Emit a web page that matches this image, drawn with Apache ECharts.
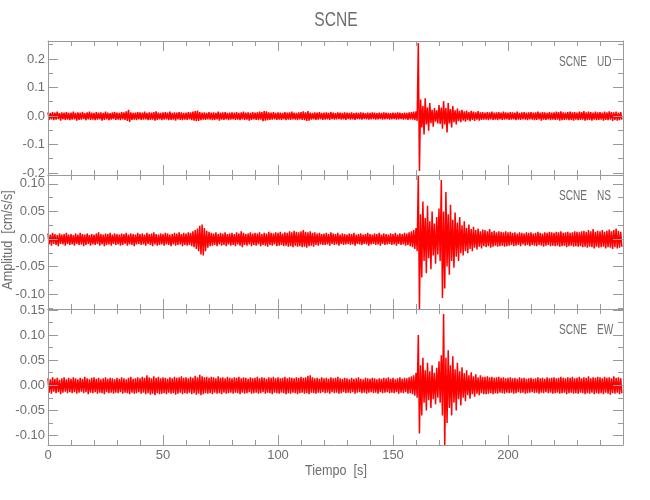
<!DOCTYPE html>
<html>
<head>
<meta charset="utf-8">
<script src="https://cdn.jsdelivr.net/npm/echarts@6/dist/echarts.min.js"></script>
<style>html,body{margin:0;padding:0;background:#fff;}#chart{width:650px;height:500px;}</style>
</head>
<body>
<div id="chart"></div>
<script>
// ---- data (amplitude envelopes per 1 s bin, cm/s/s) ----
const binStart = 0;     // s
const binWidth = 1;     // s
const timeMin = 0, timeMax = 250;

const panelNames = ['UD', 'NS', 'EW'];
const station = 'SCNE';

const udRange = [-0.207, 0.263];
const nsRange = [-0.127, 0.116];
const ewRange = [-0.119, 0.152];

const udTicks = [-0.2, -0.1, 0.0, 0.1, 0.2];
const nsTicks = [-0.10, -0.05, 0.00, 0.05, 0.10];
const ewTicks = [-0.10, -0.05, 0.00, 0.05, 0.10, 0.15];
const udMinor = [-0.15, -0.05, 0.05, 0.15, 0.25];
const nsMinor = [-0.125, -0.075, -0.025, 0.025, 0.075];
const ewMinor = [-0.075, -0.025, 0.025, 0.075, 0.125];

const udUp = [
0.013,0.011,0.014,0.012,0.015,0.010,0.013,0.012,0.014,0.011,
0.012,0.015,0.011,0.013,0.012,0.014,0.010,0.013,0.015,0.012,
0.011,0.014,0.012,0.013,0.011,0.015,0.012,0.010,0.013,0.014,
0.012,0.011,0.014,0.013,0.016,0.022,0.013,0.011,0.012,0.014,
0.013,0.012,0.015,0.011,0.013,0.012,0.014,0.016,0.012,0.011,
0.013,0.014,0.012,0.015,0.011,0.013,0.012,0.014,0.013,0.011,
0.012,0.014,0.013,0.015,0.017,0.019,0.014,0.012,0.013,0.011,
0.014,0.012,0.013,0.011,0.015,0.012,0.013,0.014,0.011,0.012,
0.013,0.012,0.014,0.011,0.013,0.015,0.012,0.013,0.011,0.014,
0.012,0.013,0.015,0.014,0.017,0.016,0.013,0.012,0.014,0.011,
0.013,0.012,0.011,0.014,0.012,0.013,0.015,0.012,0.011,0.013,
0.014,0.016,0.013,0.017,0.012,0.011,0.013,0.012,0.014,0.011,
0.012,0.013,0.011,0.014,0.012,0.010,0.013,0.012,0.011,0.013,
0.012,0.011,0.013,0.010,0.012,0.011,0.013,0.012,0.010,0.012,
0.011,0.013,0.012,0.010,0.012,0.011,0.013,0.012,0.011,0.010,
0.012,0.011,0.013,0.012,0.010,0.012,0.011,0.013,0.014,0.015,
0.016,0.256,0.058,0.035,0.062,0.030,0.045,0.022,0.028,0.020,
0.038,0.030,0.052,0.028,0.045,0.024,0.035,0.020,0.026,0.018,
0.022,0.016,0.019,0.014,0.018,0.015,0.013,0.017,0.013,0.014,
0.012,0.014,0.013,0.015,0.012,0.013,0.014,0.012,0.015,0.013,
0.012,0.014,0.013,0.012,0.015,0.011,0.013,0.014,0.012,0.013,
0.014,0.012,0.013,0.015,0.012,0.014,0.013,0.011,0.014,0.012,
0.013,0.015,0.014,0.016,0.013,0.012,0.014,0.015,0.013,0.014,
0.012,0.015,0.014,0.017,0.013,0.015,0.014,0.012,0.015,0.013,
0.014,0.012,0.015,0.013,0.016,0.014,0.013,0.015,0.012,0.014
];
const udLo = [
-0.014,-0.012,-0.015,-0.013,-0.011,-0.016,-0.012,-0.014,-0.013,-0.015,
-0.013,-0.012,-0.016,-0.014,-0.013,-0.011,-0.015,-0.012,-0.014,-0.013,
-0.015,-0.013,-0.012,-0.016,-0.014,-0.012,-0.015,-0.013,-0.011,-0.014,
-0.013,-0.015,-0.012,-0.014,-0.017,-0.021,-0.014,-0.013,-0.015,-0.012,
-0.014,-0.013,-0.012,-0.015,-0.014,-0.013,-0.016,-0.014,-0.012,-0.015,
-0.013,-0.012,-0.015,-0.014,-0.013,-0.016,-0.012,-0.014,-0.015,-0.013,
-0.014,-0.012,-0.015,-0.016,-0.018,-0.017,-0.015,-0.013,-0.014,-0.012,
-0.013,-0.015,-0.014,-0.012,-0.016,-0.013,-0.014,-0.012,-0.015,-0.013,
-0.012,-0.014,-0.013,-0.015,-0.012,-0.014,-0.013,-0.016,-0.014,-0.012,
-0.014,-0.015,-0.013,-0.018,-0.016,-0.015,-0.014,-0.013,-0.012,-0.014,
-0.013,-0.014,-0.012,-0.015,-0.013,-0.014,-0.012,-0.013,-0.015,-0.012,
-0.014,-0.015,-0.017,-0.016,-0.013,-0.012,-0.014,-0.013,-0.012,-0.014,
-0.013,-0.012,-0.014,-0.011,-0.013,-0.012,-0.011,-0.013,-0.012,-0.014,
-0.011,-0.013,-0.012,-0.014,-0.011,-0.012,-0.013,-0.011,-0.012,-0.013,
-0.012,-0.011,-0.013,-0.012,-0.011,-0.013,-0.012,-0.011,-0.013,-0.012,
-0.011,-0.013,-0.012,-0.011,-0.013,-0.012,-0.014,-0.012,-0.013,-0.015,
-0.017,-0.193,-0.040,-0.065,-0.030,-0.052,-0.025,-0.038,-0.020,-0.026,
-0.028,-0.045,-0.030,-0.058,-0.026,-0.040,-0.022,-0.030,-0.018,-0.022,
-0.016,-0.020,-0.015,-0.018,-0.014,-0.017,-0.013,-0.016,-0.014,-0.013,
-0.013,-0.015,-0.012,-0.014,-0.013,-0.015,-0.012,-0.014,-0.013,-0.012,
-0.014,-0.013,-0.012,-0.015,-0.013,-0.014,-0.012,-0.013,-0.015,-0.012,
-0.013,-0.015,-0.014,-0.012,-0.016,-0.013,-0.014,-0.012,-0.015,-0.013,
-0.014,-0.013,-0.016,-0.015,-0.014,-0.013,-0.015,-0.014,-0.016,-0.013,
-0.015,-0.014,-0.013,-0.016,-0.015,-0.014,-0.016,-0.013,-0.015,-0.014,
-0.013,-0.016,-0.014,-0.015,-0.013,-0.017,-0.014,-0.016,-0.015,-0.013
];

const nsUp = [
0.010,0.008,0.011,0.009,0.007,0.010,0.008,0.009,0.011,0.008,
0.009,0.007,0.010,0.008,0.011,0.009,0.008,0.010,0.007,0.009,
0.008,0.010,0.012,0.009,0.008,0.010,0.009,0.011,0.008,0.010,
0.009,0.008,0.010,0.009,0.011,0.008,0.010,0.009,0.008,0.011,
0.009,0.010,0.008,0.011,0.009,0.010,0.012,0.009,0.008,0.010,
0.009,0.011,0.010,0.008,0.009,0.011,0.010,0.012,0.009,0.011,
0.010,0.012,0.011,0.014,0.016,0.019,0.024,0.026,0.020,0.015,
0.013,0.011,0.010,0.012,0.009,0.011,0.010,0.012,0.009,0.010,
0.011,0.009,0.012,0.010,0.014,0.011,0.009,0.010,0.012,0.010,
0.011,0.010,0.012,0.009,0.011,0.010,0.013,0.011,0.010,0.012,
0.011,0.013,0.010,0.012,0.011,0.014,0.012,0.015,0.013,0.012,
0.014,0.016,0.013,0.012,0.014,0.011,0.012,0.010,0.011,0.009,
0.010,0.011,0.009,0.012,0.010,0.009,0.011,0.008,0.010,0.009,
0.008,0.010,0.009,0.011,0.008,0.009,0.010,0.008,0.009,0.011,
0.009,0.008,0.010,0.009,0.011,0.008,0.010,0.009,0.008,0.010,
0.009,0.011,0.008,0.010,0.009,0.011,0.010,0.012,0.014,0.016,
0.020,0.116,0.045,0.068,0.038,0.060,0.032,0.050,0.028,0.040,
0.055,0.107,0.050,0.085,0.045,0.062,0.035,0.048,0.030,0.040,
0.025,0.032,0.020,0.026,0.018,0.022,0.016,0.019,0.014,0.017,
0.016,0.014,0.018,0.013,0.015,0.012,0.014,0.013,0.012,0.014,
0.012,0.013,0.011,0.012,0.010,0.012,0.011,0.010,0.012,0.011,
0.012,0.010,0.011,0.013,0.011,0.010,0.012,0.011,0.013,0.012,
0.011,0.013,0.012,0.014,0.011,0.012,0.013,0.011,0.012,0.014,
0.013,0.012,0.014,0.015,0.013,0.016,0.014,0.018,0.013,0.015,
0.014,0.016,0.013,0.015,0.017,0.014,0.016,0.019,0.015,0.013
];
const nsLo = [
-0.010,-0.012,-0.009,-0.011,-0.013,-0.009,-0.010,-0.012,-0.009,-0.011,
-0.010,-0.012,-0.009,-0.011,-0.010,-0.013,-0.011,-0.009,-0.012,-0.010,
-0.011,-0.009,-0.012,-0.010,-0.013,-0.011,-0.010,-0.012,-0.009,-0.011,
-0.010,-0.012,-0.011,-0.009,-0.012,-0.010,-0.011,-0.013,-0.010,-0.009,
-0.011,-0.010,-0.012,-0.009,-0.011,-0.013,-0.010,-0.012,-0.011,-0.010,
-0.012,-0.010,-0.011,-0.013,-0.010,-0.012,-0.011,-0.010,-0.013,-0.011,
-0.012,-0.011,-0.013,-0.015,-0.018,-0.022,-0.028,-0.030,-0.022,-0.016,
-0.013,-0.012,-0.011,-0.013,-0.010,-0.012,-0.011,-0.013,-0.010,-0.012,
-0.011,-0.013,-0.010,-0.012,-0.015,-0.011,-0.012,-0.010,-0.013,-0.011,
-0.012,-0.010,-0.013,-0.011,-0.012,-0.014,-0.011,-0.012,-0.010,-0.013,
-0.012,-0.011,-0.013,-0.012,-0.014,-0.013,-0.015,-0.012,-0.014,-0.013,
-0.015,-0.014,-0.016,-0.013,-0.012,-0.014,-0.011,-0.012,-0.010,-0.011,
-0.011,-0.010,-0.012,-0.009,-0.011,-0.010,-0.012,-0.009,-0.011,-0.010,
-0.009,-0.011,-0.010,-0.012,-0.009,-0.010,-0.011,-0.009,-0.010,-0.012,
-0.010,-0.009,-0.011,-0.010,-0.012,-0.009,-0.011,-0.010,-0.009,-0.011,
-0.010,-0.012,-0.009,-0.011,-0.010,-0.012,-0.011,-0.013,-0.015,-0.018,
-0.022,-0.127,-0.070,-0.040,-0.062,-0.035,-0.055,-0.030,-0.045,-0.028,
-0.040,-0.107,-0.090,-0.050,-0.065,-0.040,-0.052,-0.032,-0.040,-0.026,
-0.030,-0.022,-0.026,-0.018,-0.022,-0.016,-0.019,-0.014,-0.017,-0.013,
-0.015,-0.013,-0.016,-0.014,-0.012,-0.014,-0.013,-0.012,-0.014,-0.013,
-0.012,-0.011,-0.013,-0.012,-0.011,-0.013,-0.010,-0.012,-0.011,-0.013,
-0.011,-0.012,-0.013,-0.011,-0.012,-0.014,-0.012,-0.011,-0.013,-0.012,
-0.013,-0.012,-0.014,-0.013,-0.012,-0.015,-0.013,-0.012,-0.014,-0.013,
-0.014,-0.013,-0.015,-0.014,-0.016,-0.014,-0.015,-0.017,-0.014,-0.016,
-0.015,-0.014,-0.017,-0.015,-0.016,-0.018,-0.015,-0.017,-0.016,-0.014
];

const ewUp = [
0.014,0.012,0.016,0.013,0.015,0.011,0.014,0.016,0.012,0.015,
0.013,0.016,0.014,0.012,0.015,0.013,0.017,0.014,0.012,0.015,
0.016,0.013,0.015,0.012,0.014,0.016,0.013,0.015,0.014,0.012,
0.015,0.013,0.016,0.014,0.012,0.015,0.017,0.013,0.014,0.016,
0.014,0.017,0.015,0.020,0.016,0.014,0.018,0.015,0.017,0.014,
0.016,0.015,0.013,0.016,0.014,0.017,0.015,0.016,0.018,0.015,
0.016,0.014,0.017,0.015,0.019,0.016,0.021,0.018,0.016,0.017,
0.015,0.017,0.016,0.014,0.018,0.015,0.016,0.014,0.017,0.015,
0.014,0.016,0.015,0.017,0.014,0.016,0.015,0.013,0.016,0.014,
0.015,0.017,0.014,0.016,0.015,0.013,0.016,0.015,0.017,0.014,
0.016,0.014,0.015,0.017,0.014,0.016,0.015,0.014,0.016,0.015,
0.017,0.015,0.016,0.019,0.020,0.016,0.014,0.015,0.013,0.016,
0.014,0.015,0.013,0.016,0.014,0.015,0.017,0.014,0.013,0.015,
0.014,0.012,0.015,0.013,0.014,0.016,0.013,0.012,0.015,0.014,
0.013,0.015,0.014,0.012,0.014,0.013,0.015,0.014,0.016,0.013,
0.015,0.012,0.014,0.016,0.013,0.015,0.014,0.016,0.018,0.020,
0.025,0.100,0.040,0.055,0.030,0.045,0.028,0.040,0.025,0.035,
0.048,0.060,0.142,0.055,0.070,0.040,0.058,0.032,0.045,0.028,
0.036,0.024,0.030,0.020,0.026,0.018,0.022,0.016,0.020,0.017,
0.017,0.018,0.016,0.017,0.015,0.016,0.017,0.015,0.016,0.014,
0.015,0.016,0.014,0.015,0.013,0.016,0.014,0.015,0.013,0.014,
0.015,0.013,0.014,0.016,0.014,0.015,0.013,0.016,0.014,0.015,
0.016,0.014,0.015,0.017,0.015,0.014,0.016,0.015,0.017,0.014,
0.015,0.017,0.014,0.016,0.015,0.018,0.014,0.016,0.015,0.017,
0.016,0.014,0.017,0.015,0.016,0.014,0.018,0.015,0.016,0.014
];
const ewLo = [
-0.015,-0.017,-0.013,-0.016,-0.014,-0.018,-0.015,-0.013,-0.016,-0.014,
-0.016,-0.014,-0.017,-0.015,-0.013,-0.016,-0.014,-0.018,-0.015,-0.016,
-0.014,-0.017,-0.015,-0.016,-0.018,-0.014,-0.016,-0.015,-0.017,-0.015,
-0.016,-0.014,-0.017,-0.015,-0.016,-0.018,-0.015,-0.017,-0.016,-0.014,
-0.017,-0.015,-0.018,-0.016,-0.019,-0.017,-0.020,-0.016,-0.018,-0.017,
-0.016,-0.018,-0.015,-0.017,-0.016,-0.019,-0.017,-0.015,-0.018,-0.016,
-0.017,-0.015,-0.018,-0.016,-0.019,-0.017,-0.020,-0.018,-0.016,-0.017,
-0.016,-0.018,-0.015,-0.017,-0.016,-0.018,-0.015,-0.017,-0.016,-0.015,
-0.017,-0.015,-0.016,-0.018,-0.015,-0.017,-0.016,-0.014,-0.017,-0.016,
-0.015,-0.017,-0.016,-0.014,-0.017,-0.015,-0.016,-0.018,-0.015,-0.016,
-0.017,-0.015,-0.016,-0.018,-0.016,-0.017,-0.015,-0.016,-0.018,-0.016,
-0.015,-0.017,-0.016,-0.018,-0.015,-0.016,-0.017,-0.015,-0.016,-0.014,
-0.016,-0.015,-0.017,-0.014,-0.016,-0.015,-0.017,-0.016,-0.014,-0.016,
-0.015,-0.016,-0.014,-0.017,-0.015,-0.014,-0.016,-0.015,-0.017,-0.015,
-0.014,-0.016,-0.015,-0.017,-0.014,-0.016,-0.015,-0.014,-0.016,-0.015,
-0.016,-0.014,-0.017,-0.015,-0.016,-0.014,-0.017,-0.016,-0.018,-0.021,
-0.025,-0.096,-0.060,-0.035,-0.050,-0.030,-0.045,-0.028,-0.038,-0.025,
-0.035,-0.060,-0.119,-0.075,-0.045,-0.060,-0.035,-0.050,-0.028,-0.040,
-0.025,-0.032,-0.020,-0.027,-0.018,-0.023,-0.017,-0.020,-0.016,-0.018,
-0.018,-0.017,-0.016,-0.018,-0.016,-0.017,-0.015,-0.016,-0.017,-0.015,
-0.016,-0.015,-0.017,-0.016,-0.014,-0.016,-0.015,-0.017,-0.016,-0.015,
-0.014,-0.016,-0.015,-0.017,-0.015,-0.016,-0.014,-0.016,-0.015,-0.017,
-0.016,-0.015,-0.017,-0.016,-0.015,-0.018,-0.016,-0.015,-0.017,-0.016,
-0.017,-0.015,-0.016,-0.018,-0.016,-0.017,-0.015,-0.018,-0.016,-0.017,
-0.016,-0.018,-0.015,-0.017,-0.019,-0.016,-0.017,-0.015,-0.018,-0.016
];

// ---- build trace (upper then lower value in each bin) ----
function trace(up, lo) {
  const d = [];
  for (let i = 0; i < up.length; i++) {
    const t = binStart + i * binWidth;
    d.push([t, up[i]]);
    d.push([t + binWidth / 2, lo[i]]);
  }
  return d;
}

const FONT = "'Liberation Sans Narrow','Liberation Sans',sans-serif";
const TXT = '#6e6e6e';
const AX = '#9a9a9a';

const panels = [
  { range: udRange, ticks: udTicks, minor: udMinor, dec: 1, data: trace(udUp, udLo), top: 41, height: 134 },
  { range: nsRange, ticks: nsTicks, minor: nsMinor, dec: 2, data: trace(nsUp, nsLo), top: 175, height: 134 },
  { range: ewRange, ticks: ewTicks, minor: ewMinor, dec: 2, data: trace(ewUp, ewLo), top: 309, height: 136 }
];

const grid = [], xAxis = [], yAxis = [], series = [];
panels.forEach((p, g) => {
  grid.push({ left: 48, right: 27, top: p.top, height: p.height, show: false });
  ['bottom', 'top'].forEach(pos => {
    xAxis.push({
      type: 'value', gridIndex: g, position: pos, min: timeMin, max: timeMax, interval: 50, z: 5,
      axisLine: { show: true, onZero: false, lineStyle: { color: AX, width: 1 } },
      axisTick: { show: true, inside: true, length: 10, lineStyle: { color: AX } },
      minorTick: { show: true, splitNumber: 5, length: 5, lineStyle: { color: AX } },
      splitLine: { show: false },
      minorSplitLine: { show: false },
      axisLabel: {
        show: g === 2 && pos === 'bottom', color: TXT, fontFamily: FONT, fontSize: 13, margin: 4,
        showMaxLabel: false
      }
    });
  });
  ['left', 'right'].forEach(pos => {
    yAxis.push({
      type: 'value', gridIndex: g, position: pos, min: p.range[0], max: p.range[1], z: 5,
      axisLine: { show: true, onZero: false, lineStyle: { color: AX, width: 1 } },
      axisTick: { show: true, inside: true, length: 10, customValues: p.ticks, lineStyle: { color: AX } },
      splitLine: { show: false },
      axisLabel: {
        show: pos === 'left', color: TXT, fontFamily: FONT, fontSize: 13, margin: 3,
        customValues: p.ticks, formatter: v => Number(v).toFixed(p.dec)
      }
    });
    yAxis.push({
      type: 'value', gridIndex: g, position: pos, min: p.range[0], max: p.range[1], z: 5,
      axisLine: { show: false, onZero: false },
      axisTick: { show: true, inside: true, length: 5, customValues: p.minor, lineStyle: { color: AX } },
      splitLine: { show: false },
      axisLabel: { show: false }
    });
  });
  series.push({
    type: 'line', xAxisIndex: 2 * g, yAxisIndex: 4 * g, data: p.data,
    showSymbol: false, symbol: 'none', clip: true, z: 2,
    lineStyle: { color: '#ff0000', width: 1.5 }
  });
});

function txt(text, x, y, size, align, rot, sx) {
  return {
    type: 'text', x: x, y: y, rotation: rot || 0, scaleX: sx || 1, z: 10,
    style: {
      text: text, fill: TXT, font: size + 'px ' + FONT,
      align: align, textAlign: align, verticalAlign: 'middle', textVerticalAlign: 'middle'
    }
  };
}

const graphic = [
  txt(station, 336, 20, 20, 'center', 0, 0.78),
  txt('Amplitud  [cm/s/s]', 8, 240, 14, 'center', Math.PI / 2, 0.9),
  txt('Tiempo  [s]', 336, 471, 14, 'center', 0, 0.9)
];
panelNames.forEach((n, g) => {
  const y = panels[g].top + 21;
  graphic.push(txt(station, 559, y, 14, 'left', 0, 0.72));
  graphic.push(txt(n, 597, y, 14, 'left', 0, 0.72));
});

const chart = echarts.init(document.getElementById('chart'), null, { renderer: 'canvas' });
chart.setOption({
  animation: false,
  backgroundColor: '#ffffff',
  textStyle: { fontFamily: FONT },
  grid: grid,
  xAxis: xAxis,
  yAxis: yAxis,
  series: series,
  graphic: graphic
});
</script>
</body>
</html>
